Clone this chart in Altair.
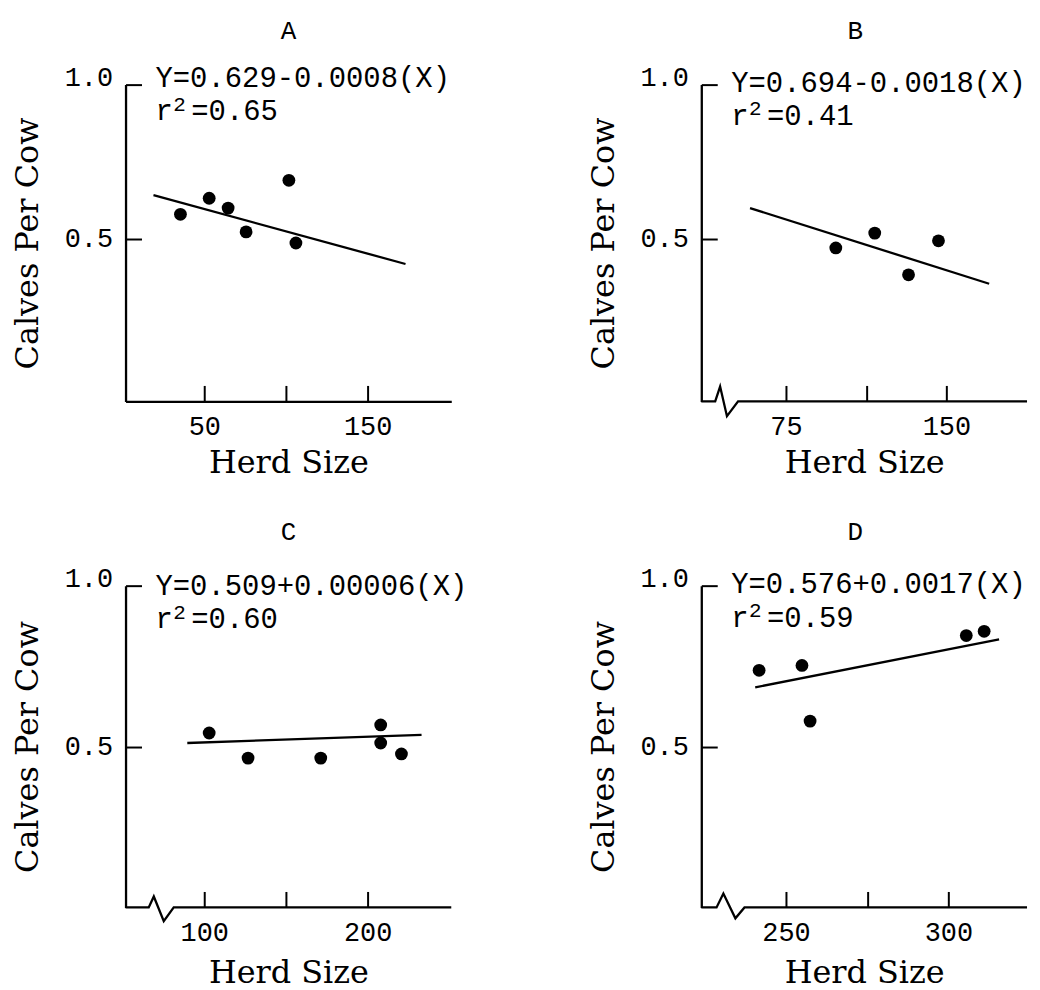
import altair as alt
import pandas as pd

MONO = "Liberation Mono"
SERIF = "DejaVu Serif"

titles = ["A", "B", "C", "D"]
equations = ["Y=0.629-0.0008(X)", "Y=0.694-0.0018(X)", "Y=0.509+0.00006(X)", "Y=0.576+0.0017(X)"]
r2_values = ["0.65", "0.41", "0.60", "0.59"]

a_herd = [35.4, 53.0, 64.6, 75.6, 101.8, 106.1]
a_calves = [0.580, 0.632, 0.600, 0.523, 0.690, 0.487]
a_fit_herd = [18.9, 173.2]
a_fit_calves = [0.642, 0.419]

b_herd = [98.3, 116.5, 132.3, 146.3]
b_calves = [0.471, 0.519, 0.384, 0.494]
b_fit_herd = [58.2, 170.0]
b_fit_calves = [0.600, 0.355]

c_herd = [103.0, 126.8, 171.3, 208.0, 208.0, 220.7]
c_calves = [0.542, 0.464, 0.464, 0.567, 0.511, 0.477]
c_fit_herd = [89.6, 233.0]
c_fit_calves = [0.511, 0.536]

d_herd = [241.7, 254.9, 257.4, 305.5, 311.0]
d_calves = [0.737, 0.752, 0.579, 0.845, 0.858]
d_fit_herd = [240.5, 315.6]
d_fit_calves = [0.684, 0.833]

a_xticks, a_xlabels = [50, 100, 150], [50, 150]
b_xticks, b_xlabels = [75, 112.5, 150], [75, 150]
c_xticks, c_xlabels = [100, 150, 200], [100, 200]
d_xticks, d_xlabels = [250, 275, 300], [250, 300]
y_ticks = [0.5, 1.0]

a_xdomain = [1.8, 201.2]
b_xdomain = [35.4, 187.7]
c_xdomain = [51.8, 251.2]
d_xdomain = [223.9, 324.2]
top_ydomain = [-0.026, 1.0]
bottom_ydomain = [0.0, 1.0]

# axis-break zigzag (data units)
b_break_herd = [35.4, 41.9, 44.2, 47.4, 52.6, 187.7]
b_break_lift = [0, 0, 0.048, -0.048, 0, 0]
c_break_herd = [51.8, 66.0, 69.1, 75.2, 81.3, 251.2]
c_break_lift = [0, 0, 0.034, -0.043, 0, 0]
d_break_herd = [223.9, 228.6, 230.7, 234.4, 237.2, 324.2]
d_break_lift = [0, 0, 0.043, -0.034, 0, 0]


def label(text, x, y, size):
    return alt.Chart(pd.DataFrame({"t": [text]})).mark_text(
        align="left", baseline="middle", font=MONO, fontSize=size, color="black"
    ).encode(text="t:N", x=alt.value(x), y=alt.value(y))


def panel(title, eq, r2, herd, calves, fit_h, fit_c, xdom, ydom, xticks, xlabels,
          brk_h, brk_lift, height, title_dx, eq_y, xtitle_pad):
    x_axis = alt.Axis(
        values=xticks, title="Herd Size", domain=brk_h is None,
        labelExpr=f"indexof({xlabels}, datum.value) >= 0 ? datum.label : ''",
        tickSize={"expr": "-16"}, labelPadding=28, titlePadding=xtitle_pad,
        labelFlush=False, labelOverlap=False,
    )
    y_axis = alt.Axis(
        values=y_ticks, format=".1f", title="Calves Per Cow",
        tickSize={"expr": "-16"}, labelPadding=29, titlePadding=20,
        labelOverlap=False,
        labelOffset={"condition": {"test": "datum.value == 1", "value": -7}, "value": 0},
    )
    X = alt.X("herd:Q", scale=alt.Scale(domain=xdom, nice=False, zero=False), axis=x_axis)
    Y = alt.Y("calves:Q", scale=alt.Scale(domain=ydom, nice=False, zero=False), axis=y_axis)

    pts = alt.Chart(pd.DataFrame({"herd": herd, "calves": calves})).mark_circle(
        size=165, color="black", opacity=1).encode(x=X, y=Y)
    fit = alt.Chart(pd.DataFrame({"herd": fit_h, "calves": fit_c})).mark_line(
        color="black", strokeWidth=2.3).encode(x=X, y=Y)
    layers = [pts, fit]
    if brk_h is not None:
        bdf = pd.DataFrame({"herd": brk_h, "calves": [ydom[0] + v for v in brk_lift]})
        layers.append(alt.Chart(bdf).mark_line(color="black", strokeWidth=2.3,
                                               strokeJoin="miter").encode(x=X, y=Y))
    layers += [
        label(eq, 30, eq_y, 29),
        label("r", 30, eq_y + 34, 29),
        label("2", 48, eq_y + 27, 21),
        label("=" + r2, 66, eq_y + 34, 29),
    ]
    return alt.layer(*layers).properties(
        width=327, height=height,
        title=alt.TitleParams(text=title, font=MONO, fontSize=26, fontWeight="normal",
                              color="black", anchor="middle", frame="group",
                              offset=20, dx=title_dx),
    )


pa = panel(titles[0], equations[0], r2_values[0], a_herd, a_calves, a_fit_herd, a_fit_calves,
           a_xdomain, top_ydomain, a_xticks, a_xlabels, None, None, 318, 0, -7, 8)
pb = panel(titles[1], equations[1], r2_values[1], b_herd, b_calves, b_fit_herd, b_fit_calves,
           b_xdomain, top_ydomain, b_xticks, b_xlabels, b_break_herd, b_break_lift, 318, -9, -2, 8)
pc = panel(titles[2], equations[2], r2_values[2], c_herd, c_calves, c_fit_herd, c_fit_calves,
           c_xdomain, bottom_ydomain, c_xticks, c_xlabels, c_break_herd, c_break_lift, 323, 0, 0, 12)
pd_ = panel(titles[3], equations[3], r2_values[3], d_herd, d_calves, d_fit_herd, d_fit_calves,
            d_xdomain, bottom_ydomain, d_xticks, d_xlabels, d_break_herd, d_break_lift, 323, -9, -2, 12)

chart = alt.concat(pa, pb, pc, pd_, columns=2, spacing={"row": 185, "column": 251},
                   bounds="flush").properties(
    padding={"left": 3, "top": 8, "right": 0, "bottom": 0},
    background="white",
).configure_view(stroke=None).configure_axis(
    grid=False, domainColor="black", domainWidth=2.3, tickColor="black", tickWidth=2,
    labelColor="black", titleColor="black", labelFont=MONO, labelFontSize=27,
    titleFont=SERIF, titleFontSize=32, titleFontWeight="normal",
).configure_title(font=MONO, fontSize=26, fontWeight="normal", color="black")

chart.save("out.html", embed_options={"renderer": "svg", "actions": False})
